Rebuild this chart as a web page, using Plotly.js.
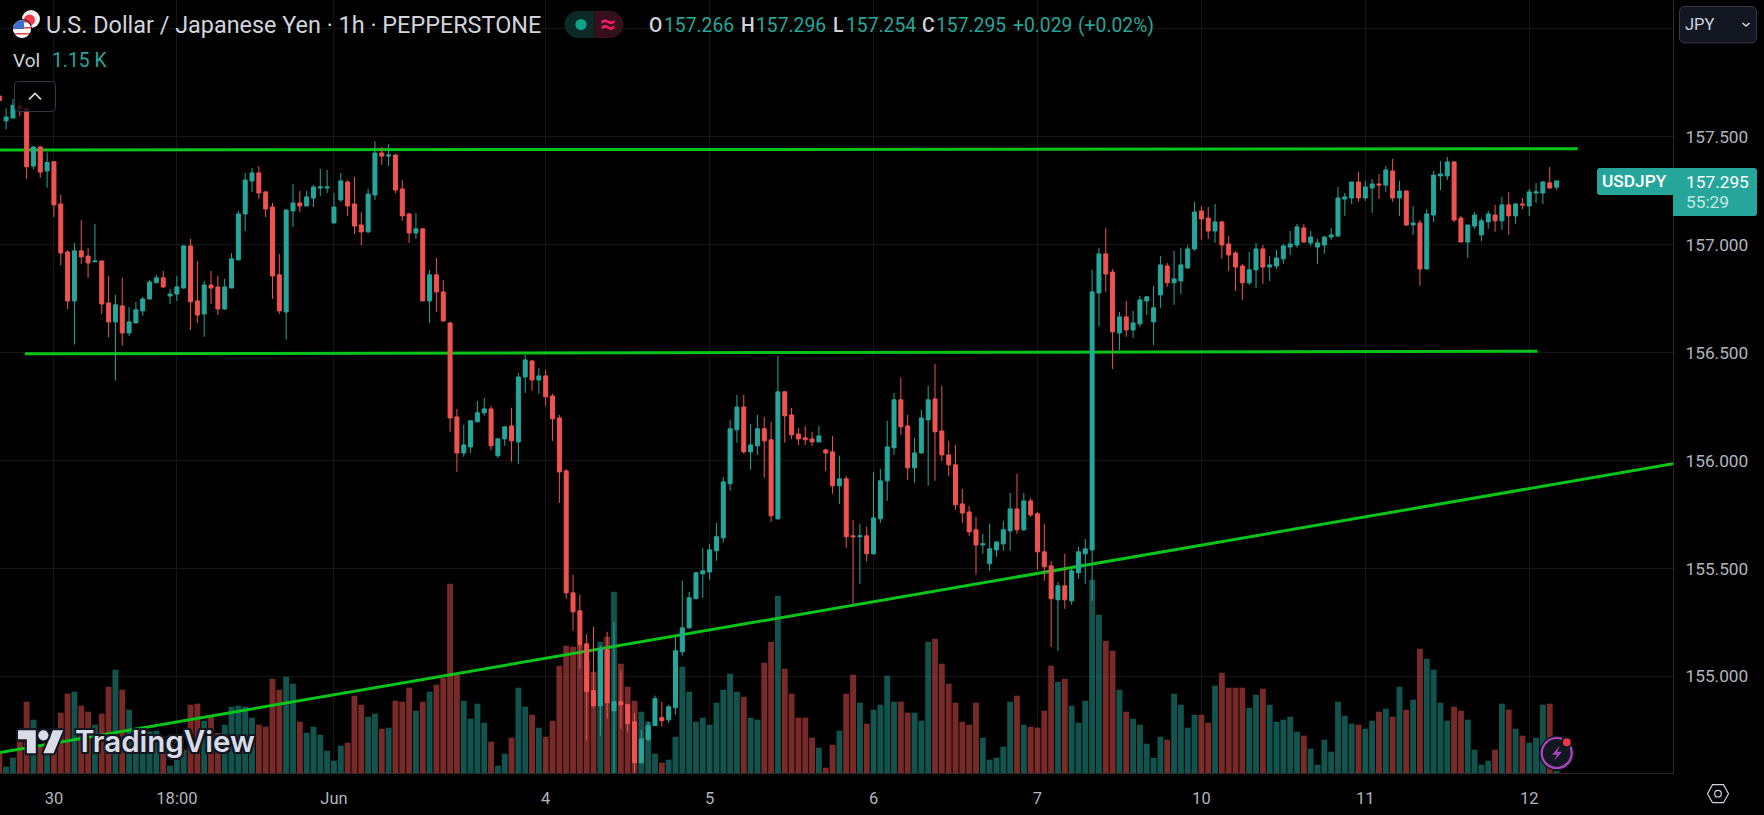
<!DOCTYPE html>
<html><head><meta charset="utf-8">
<script src="https://cdn.plot.ly/plotly-3.0.1.min.js"></script>
<style>html,body{margin:0;padding:0;background:#000;overflow:hidden}#c{width:1764px;height:815px}</style>
</head><body><div id="c"></div>
<script>
const opens=[157.688,157.573,157.586,157.642,157.631,157.364,157.452,157.341,157.384,157.188,
156.966,156.739,156.971,156.947,156.920,156.924,156.730,156.642,156.716,156.591,
156.637,156.693,156.748,156.823,156.846,156.762,156.771,156.799,156.994,156.739,
156.679,156.813,156.804,156.702,156.799,156.929,157.142,157.295,157.332,157.244,
157.174,156.860,156.688,157.156,157.193,157.179,157.216,157.262,157.262,157.100,
157.207,157.290,157.188,157.091,157.059,157.230,157.424,157.410,157.415,157.258,
157.142,157.054,157.073,156.739,156.860,156.781,156.637,156.202,156.035,156.063,
156.179,156.221,156.239,156.022,156.100,156.160,156.086,156.387,156.461,156.373,
156.392,156.299,156.197,155.952,155.387,155.304,155.151,154.934,154.864,155.123,
154.841,154.883,154.869,154.790,154.600,154.707,154.772,154.809,154.799,154.855,
155.114,155.225,155.360,155.475,155.484,155.582,155.642,155.892,156.142,156.248,
156.040,156.068,156.147,156.096,155.730,156.318,156.211,156.123,156.105,156.100,
156.086,156.049,156.040,155.883,155.915,155.651,155.647,155.651,155.568,155.730,
155.906,156.059,156.281,156.160,155.966,156.035,156.188,156.285,156.137,156.026,
155.980,155.799,155.762,155.679,155.609,155.522,155.586,155.614,155.674,155.776,
155.679,155.813,155.753,155.577,155.512,155.355,155.420,155.350,155.480,155.568,
155.586,156.776,156.957,156.873,156.591,156.665,156.605,156.633,156.739,156.642,
156.767,156.901,156.823,156.832,156.892,156.980,157.156,157.123,157.063,157.105,
157.003,156.961,156.901,156.823,156.883,156.980,156.896,156.901,156.934,156.989,
156.998,157.077,157.008,156.989,156.998,157.035,157.040,157.211,157.216,157.290,
157.216,157.262,157.281,157.276,157.341,157.216,157.248,157.091,157.100,156.887,
157.137,157.318,157.318,157.383,157.123,157.012,157.086,157.045,157.105,157.137,
157.110,157.184,157.133,157.188,157.179,157.239,157.239,157.286,157.266];
const highs=[157.693,157.631,157.674,157.662,157.640,157.457,157.457,157.427,157.387,157.230,
156.975,157.008,157.114,156.985,157.096,156.927,156.855,156.767,156.846,156.711,
156.735,156.758,156.836,156.860,156.878,156.795,156.855,156.998,157.026,156.924,
156.832,156.878,156.855,156.841,156.961,157.156,157.332,157.355,157.364,157.248,
157.193,156.957,157.165,157.281,157.248,157.248,157.276,157.350,157.346,157.239,
157.332,157.299,157.313,157.151,157.258,157.480,157.452,157.466,157.420,157.299,
157.147,157.146,157.077,156.883,156.938,156.836,156.643,156.239,156.165,156.188,
156.276,156.290,156.253,156.105,156.160,156.244,156.406,156.489,156.466,156.429,
156.420,156.309,156.211,155.961,155.471,155.378,155.197,155.230,155.142,155.207,
155.253,155.026,154.873,154.832,154.753,154.790,154.911,154.883,154.869,155.184,
155.443,155.392,155.484,155.596,155.614,155.711,155.924,156.188,156.304,156.304,
156.170,156.211,156.202,156.179,156.484,156.322,156.244,156.151,156.160,156.133,
156.160,156.054,156.114,156.022,155.929,155.725,155.707,155.693,155.947,155.961,
156.184,156.313,156.383,156.211,156.105,156.234,156.346,156.447,156.346,156.091,
156.072,155.869,155.790,155.739,155.660,155.707,155.623,155.721,155.850,155.938,
155.850,155.827,155.762,155.707,155.535,155.438,155.568,155.503,155.600,155.637,
156.883,156.985,157.077,156.887,156.688,156.739,156.693,156.762,156.762,156.809,
156.947,156.915,156.971,156.985,156.998,157.198,157.179,157.174,157.188,157.110,
157.040,156.971,156.911,156.966,157.008,156.998,156.947,156.975,157.003,157.063,
157.096,157.096,157.063,157.026,157.040,157.077,157.267,157.239,157.290,157.336,
157.295,157.304,157.327,157.364,157.397,157.295,157.253,157.179,157.114,157.165,
157.341,157.387,157.406,157.387,157.133,157.091,157.151,157.123,157.156,157.184,
157.221,157.244,157.193,157.216,157.258,157.285,157.295,157.359,157.296];
const lows=[157.654,157.535,157.586,157.596,157.304,157.350,157.310,157.264,157.128,156.903,
156.702,156.537,156.911,156.846,156.920,156.679,156.571,156.370,156.532,156.577,
156.637,156.670,156.748,156.823,156.799,156.725,156.739,156.795,156.605,156.637,
156.573,156.725,156.674,156.698,156.799,156.929,157.063,157.244,157.211,157.128,
156.748,156.679,156.559,157.082,157.151,157.179,157.174,157.225,157.239,157.100,
157.198,157.133,157.049,156.998,157.054,157.207,157.369,157.364,157.239,157.110,
157.008,157.026,156.739,156.637,156.688,156.642,156.133,155.947,156.017,156.035,
156.179,156.207,156.049,156.012,156.068,155.994,155.985,156.313,156.323,156.309,
156.253,156.091,155.804,155.360,155.212,155.036,154.702,154.855,154.725,154.804,
154.552,154.758,154.744,154.554,154.600,154.702,154.772,154.767,154.785,154.822,
155.096,155.221,155.360,155.364,155.448,155.535,155.619,155.860,156.082,156.031,
155.957,156.026,155.920,155.716,155.725,156.082,156.100,156.072,156.072,156.068,
156.086,155.952,155.846,155.799,155.596,155.336,155.429,155.531,155.563,155.711,
155.813,156.026,156.119,155.910,155.897,156.031,155.883,155.906,155.998,155.929,
155.772,155.711,155.651,155.471,155.568,155.489,155.554,155.582,155.582,155.660,
155.674,155.739,155.494,155.443,155.137,155.118,155.313,155.332,155.452,155.429,
155.350,156.623,156.781,156.424,156.512,156.573,156.568,156.619,156.674,156.535,
156.707,156.804,156.721,156.771,156.887,156.971,157.022,157.026,157.008,156.934,
156.878,156.785,156.744,156.813,156.799,156.818,156.832,156.887,156.911,156.952,
156.985,157.008,156.994,156.911,156.957,157.022,157.035,157.133,157.188,157.198,
157.202,157.147,157.211,157.244,157.198,157.133,157.086,157.045,156.809,156.887,
157.105,157.253,157.299,157.105,157.012,156.938,157.073,157.017,157.073,157.059,
157.068,157.045,157.096,157.165,157.133,157.193,157.188,157.258,157.254];
const closes=[157.667,157.591,157.645,157.627,157.361,157.452,157.336,157.381,157.184,156.961,
156.739,156.971,156.943,156.915,156.924,156.725,156.642,156.721,156.591,156.642,
156.698,156.748,156.827,156.846,156.804,156.771,156.804,156.994,156.735,156.674,
156.813,156.799,156.702,156.804,156.934,157.142,157.299,157.332,157.239,157.165,
156.855,156.693,157.160,157.193,157.179,157.221,157.267,157.267,157.267,157.174,
157.295,157.179,157.086,157.059,157.234,157.424,157.410,157.415,157.253,157.133,
157.054,157.073,156.739,156.860,156.781,156.647,156.197,156.035,156.072,156.184,
156.221,156.239,156.068,156.100,156.156,156.091,156.387,156.466,156.373,156.392,
156.295,156.193,155.947,155.387,155.299,155.147,154.929,154.864,155.128,154.878,
154.883,154.869,154.781,154.600,154.711,154.772,154.897,154.795,154.859,155.119,
155.225,155.364,155.480,155.489,155.586,155.647,155.901,156.147,156.248,156.040,
156.072,156.147,156.091,155.744,156.318,156.207,156.119,156.100,156.096,156.086,
156.114,156.035,155.883,155.915,155.647,155.647,155.651,155.568,155.734,155.906,
156.063,156.281,156.156,155.966,156.035,156.197,156.281,156.133,156.026,155.980,
155.795,155.757,155.670,155.609,155.614,155.591,155.623,155.679,155.776,155.679,
155.813,155.748,155.577,155.508,155.360,155.420,155.355,155.489,155.577,155.591,
156.781,156.957,156.864,156.596,156.665,156.605,156.637,156.744,156.758,156.707,
156.906,156.823,156.841,156.906,156.980,157.151,157.119,157.063,157.105,156.998,
156.952,156.896,156.823,156.883,156.980,156.896,156.906,156.938,156.994,157.003,
157.082,157.012,157.035,157.008,157.035,157.045,157.216,157.221,157.290,157.216,
157.267,157.281,157.276,157.346,157.216,157.248,157.091,157.100,156.887,157.142,
157.322,157.327,157.383,157.114,157.012,157.091,157.137,157.110,157.142,157.110,
157.184,157.133,157.188,157.184,157.244,157.244,157.290,157.262,157.295];
const volumes=[60,19,46,94,214,160,80,80,90,181,238,244,202,184,145,178,259,310,250,190,
135,130,125,127,80,22,40,70,205,208,157,168,120,145,199,202,199,166,145,139,
283,250,289,268,154,121,139,115,67,37,82,91,232,205,169,178,133,136,217,214,
256,187,214,244,265,286,568,295,217,163,208,151,94,22,58,106,256,199,175,136,
109,157,322,382,379,385,340,304,394,409,544,328,259,217,184,154,58,31,40,109,
319,244,154,166,145,211,250,298,244,229,166,160,331,394,532,313,238,166,166,106,
76,16,85,127,238,295,211,148,190,205,292,214,214,181,181,157,394,403,328,268,
211,154,145,211,106,40,46,79,214,232,145,139,136,187,322,274,283,202,151,217,
580,475,397,367,250,184,163,145,88,46,109,100,238,205,136,175,175,151,262,301,
256,256,256,196,235,253,205,154,160,169,124,112,73,25,100,64,214,172,148,145,
133,157,184,193,169,259,190,220,373,343,310,211,157,199,187,160,70,25,37,70,
208,190,133,112,91,106,205,208,7];
const tickIndex=[8,26,49,80,104,128,152,176,200,224];
const tickLabels=["30","18:00","Jun","4","5","6","7","10","11","12"];
const priceTicks=[155,155.5,156,156.5,157,157.5,158];
const priceLabels=["155.000","155.500","156.000","156.500","157.000","157.500",""];
const upperLineX=[-1,231.1], upperLineY=[157.438,157.444];
const middleLineX=[3.75,225.2], middleLineY=[156.494,156.506];
const trendLineX=[0.1,245.05], trendLineY=[154.648,155.985];

const W=1673,H=773.3;
const fx=p=>p/W, fy=p=>1-p/H;
const UP="#26a69a",DN="#ef5350",TXT="#d1d4dc",AX="#b2b5be",GRID="#151515",GREEN="#0bc41a";
const FONT="Roboto, sans-serif";
const idx=opens.map((_,i)=>i);
const priceRange=[154.5527,158.1329];
const volColors=opens.map((o,i)=>closes[i]>=o?"rgba(38,166,154,0.5)":"rgba(239,83,80,0.5)");
const line=(x,y)=>({type:"scatter",mode:"lines",x,y,xaxis:"x",yaxis:"y2",line:{color:GREEN,width:3},hoverinfo:"skip",showlegend:false});
const traces=[
 {type:"bar",x:idx,y:volumes,xaxis:"x",yaxis:"y",width:0.86,marker:{color:volColors,line:{width:0}},hoverinfo:"skip",showlegend:false},
 line(upperLineX,upperLineY),line(middleLineX,middleLineY),line(trendLineX,trendLineY),
 {type:"candlestick",x:idx,open:opens,high:highs,low:lows,close:closes,xaxis:"x",yaxis:"y3",
  increasing:{line:{color:UP,width:1},fillcolor:UP},decreasing:{line:{color:DN,width:1},fillcolor:DN},
  whiskerwidth:0,hoverinfo:"skip",showlegend:false}
];
function txt(px,py,text,color,size,anchor,extra){
 return Object.assign({xref:"paper",yref:"paper",x:fx(anchor==="center"?px:px-1),y:fy(py),text,showarrow:false,
  xanchor:anchor||"left",yanchor:"middle",borderpad:0,
  font:Object.assign({family:FONT,size:size||18,color:color||TXT},extra||{})});
}
const annotations=[
 txt(46,25.5,"U.S. Dollar / Japanese Yen · 1h · PEPPERSTONE",TXT,23.4),
 txt(608,24.5,"≈","#e91e63",27,"center",{weight:700}),
 txt(649,25.5,"O",TXT,19.3,"left",{weight:500}),txt(664,25.5,"157.266",UP,19.3),
 txt(741,25.5,"H",TXT,19.3,"left",{weight:500}),txt(755.5,25.5,"157.296",UP,19.3),
 txt(833,25.5,"L",TXT,19.3,"left",{weight:500}),txt(846,25.5,"157.254",UP,19.3),
 txt(921.5,25.5,"C",TXT,19.3,"left",{weight:500}),txt(936,25.5,"157.295",UP,19.3),
 txt(1012.5,25.5,"+0.029",UP,19.3),txt(1078,25.5,"(+0.02%)",UP,19.3),
 txt(13,60.5,"Vol",TXT,19),txt(52,60.5,"1.15 K",UP,19.3),
 txt(1685,24.5,"JPY",TXT,16.5),
 txt(1634.5,181.5,"USDJPY","#ffffff",17.3,"center",{weight:500}),
 txt(1685.5,182,"157.295","#ffffff",17.3),
 txt(1685.5,202.5,"55:29","#c5e6e2",17.3),
 txt(74.5,741.5,"TradingView","#d9dce6",29.5,"left",{family:"Inter, sans-serif",weight:600,
  shadow:"2px 0 0 #131722,-2px 0 0 #131722,0 2px 0 #131722,0 -2px 0 #131722,2px 2px 0 #131722,-2px -2px 0 #131722,2px -2px 0 #131722,-2px 2px 0 #131722"})
];
function img(px,py,w,h,svg){
 const s='<svg xmlns="http://www.w3.org/2000/svg" width="'+w+'" height="'+h+'" viewBox="0 0 '+w+' '+h+'">'+svg+'</svg>';
 return {source:"data:image/svg+xml;charset=utf-8,"+encodeURIComponent(s),xref:"paper",yref:"paper",
  x:fx(px),y:fy(py),sizex:w/W,sizey:h/H,xanchor:"left",yanchor:"top",sizing:"stretch",layer:"above"};
}
let stripes="";
for(let k=0;k<6;k++){stripes+='<rect x="3" y="'+(13+k*3)+'" width="26" height="1.5" fill="'+(k%2?'#fff':'#e0404a')+'"/>';}
const images=[
 img(10,8,36,34,'<circle cx="21" cy="11" r="9" fill="#f0f0f0"/><circle cx="19.5" cy="12" r="5.5" fill="#ef3b4c"/>'+
  '<circle cx="12" cy="21" r="10" fill="#000"/><clipPath id="f"><circle cx="12" cy="21" r="9"/></clipPath><g clip-path="url(#f)"><rect x="3" y="12" width="18" height="18" fill="#f5f5f5"/>'+stripes+'<rect x="3" y="12" width="11" height="9" fill="#3d6fd0"/></g>'),
 img(564,10.5,61,28,'<path d="M14 0.5H30.5V27.5H14A13.5 13.5 0 0 1 14 .5Z" fill="#0b2a27"/><path d="M30.5 .5H46A13.5 13.5 0 0 1 46 27.5H30.5Z" fill="#35101c"/><circle cx="17" cy="14" r="5.6" fill="#0ea487"/>'),
 img(14,81,42,31,'<rect x=".5" y=".5" width="41" height="30" rx="4" fill="rgba(0,0,0,0.78)" stroke="#363a45"/><path d="M15 18.5L21 12.5L27 18.5" fill="none" stroke="#d1d4dc" stroke-width="1.8"/>'),
 img(1679,6,79,38,'<rect x=".5" y=".5" width="77" height="36.5" rx="5" fill="#131722" stroke="#363a45"/><path d="M63.5 17L67 20L70.500 17" fill="none" stroke="#d1d4dc" stroke-width="1.6"/>'),
 img(1597,168,76,27,'<path d="M3 0H76V27H3A3 3 0 0 1 0 24V3A3 3 0 0 1 3 0Z" fill="#26a69a"/>'),
 img(1673,168,85,48,'<path d="M0 0H81A3 3 0 0 1 84 3V45A3 3 0 0 1 81 48H0Z" fill="#26a69a"/>'),
 img(15,722,52,42,'<g transform="translate(3,3.500) scale(1.27)"><g fill="#d9dce6" stroke="#131722" stroke-width="3.500" paint-order="stroke" stroke-linejoin="round"><path d="M14 22H7V11H0V4h14v18z"/><path d="M28 22h-8l7.500-18h8L28 22z"/><circle cx="20" cy="8" r="4"/></g></g>'),
 img(1538,734,40,40,'<circle cx="18.700" cy="19.300" r="17.500" fill="#131722"/><circle cx="18.700" cy="19.300" r="15" fill="#131722" stroke="#ab47bc" stroke-width="2.200"/><path d="M22 12L14 21H19L16 27L24 18H19Z" fill="#ab47bc"/><circle cx="28.700" cy="8.700" r="5.800" fill="#131722"/><circle cx="28.700" cy="8.700" r="3.800" fill="#f23645"/>'),
 img(1706,783,24,22,'<path d="M6.500 2H17.500L22.500 11L17.500 20H6.500L1.500 11Z" fill="none" stroke="#d1d4dc" stroke-width="1.200"/><circle cx="12" cy="11" r="3.300" fill="none" stroke="#d1d4dc" stroke-width="1.200"/>')
];
const hiddenY=r=>({range:r,visible:false,fixedrange:true,showgrid:false,zeroline:false});
const layout={
 width:1764,height:815,autosize:false,paper_bgcolor:"#000",plot_bgcolor:"#000",
 margin:{l:0,r:91,t:0,b:41.7,pad:0},showlegend:false,dragmode:false,boxgap:0.415,boxgroupgap:0,
 xaxis:{range:[0.1025,245.05],type:"linear",fixedrange:true,rangeslider:{visible:false},tickmode:"array",tickvals:tickIndex,ticktext:tickLabels,
  tickfont:{family:FONT,size:16.5,color:AX},ticks:"",ticklen:0,ticklabelstandoff:10,showgrid:true,gridcolor:GRID,gridwidth:1,zeroline:false,showline:true,linecolor:"#2b2b2b",linewidth:1},
 yaxis:hiddenY([0,2320]),
 yaxis2:Object.assign(hiddenY(priceRange),{overlaying:"y"}),
 yaxis3:{range:priceRange,overlaying:"y",side:"right",anchor:"x",fixedrange:true,tickmode:"array",tickvals:priceTicks,ticktext:priceLabels,
  tickfont:{family:FONT,size:17.3,color:AX},ticks:"",ticklen:0,ticklabelstandoff:8,showgrid:true,gridcolor:GRID,gridwidth:1,zeroline:false,showline:true,linecolor:"#2b2b2b",linewidth:1},
 annotations,images
};
Plotly.newPlot("c",traces,layout,{displayModeBar:false,staticPlot:true,responsive:false});
</script></body></html>
